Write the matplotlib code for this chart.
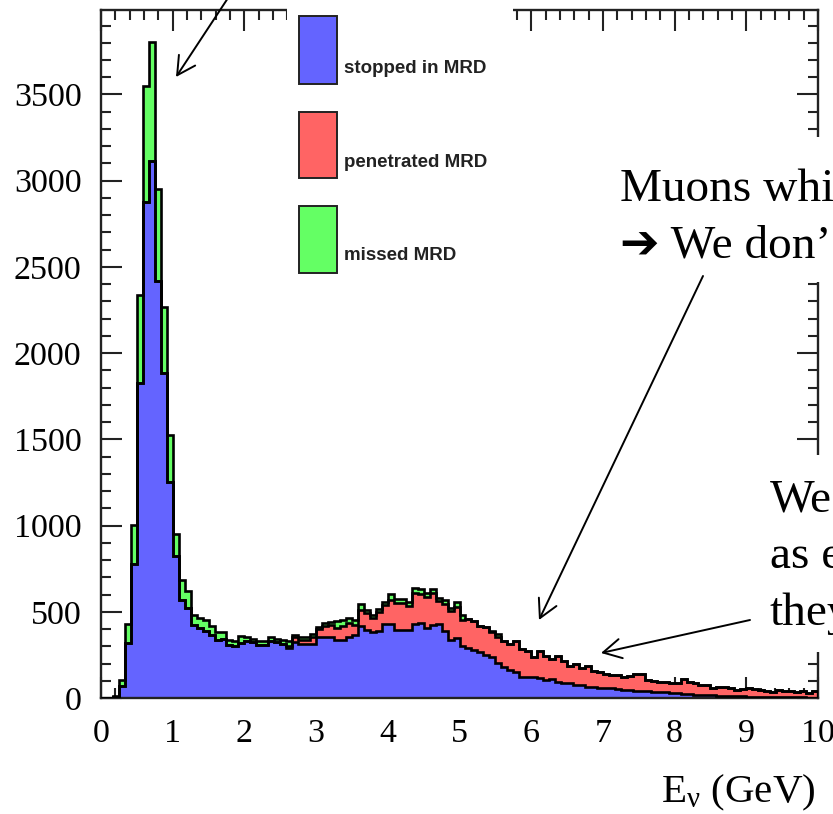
import numpy as np
import matplotlib
matplotlib.use("Agg")
import matplotlib.pyplot as plt
from matplotlib.patches import Rectangle, FancyArrowPatch, ArrowStyle
from matplotlib.ticker import MultipleLocator

# Neutrino energy spectrum, 120 bins of 1/12 GeV between 0 and 10 GeV
e_min, e_max, n_bins = 0.0, 10.0, 120

stopped = [
    0, 0, 8, 68, 320, 777, 1826, 2878, 3114, 2420, 1882, 1254,
    822, 570, 521, 424, 405, 391, 366, 339, 345, 310, 304, 320,
    330, 324, 308, 308, 333, 324, 314, 289, 327, 314, 314, 314,
    356, 356, 356, 337, 337, 352, 366, 415, 395, 380, 391, 430,
    430, 395, 395, 395, 430, 434, 405, 424, 430, 386, 337, 347,
    302, 289, 279, 269, 250, 237, 202, 182, 163, 153, 124, 124,
    124, 115, 105, 108, 95, 85, 85, 76, 76, 66, 62, 60,
    56, 56, 50, 47, 47, 43, 43, 43, 37, 37, 32, 27,
    27, 23, 23, 18, 18, 18, 15, 12, 12, 12, 10, 10,
    8, 8, 6, 5, 4, 4, 3, 3, 3, 3, 2, 2,
]
penetrated = [
    0, 0, 0, 0, 0, 0, 0, 0, 0, 0, 0, 0,
    0, 0, 0, 0, 0, 0, 0, 0, 0, 0, 0, 0,
    0, 0, 0, 0, 0, 0, 0, 11, 25, 25, 25, 42,
    43, 63, 66, 68, 83, 82, 58, 97, 97, 83, 105, 107,
    140, 155, 155, 136, 178, 171, 181, 185, 130, 161, 165, 181,
    151, 168, 165, 146, 161, 148, 153, 151, 151, 175, 158, 146,
    113, 155, 140, 117, 150, 127, 98, 122, 97, 117, 92, 90,
    84, 78, 84, 77, 81, 97, 97, 62, 63, 58, 58, 58,
    61, 86, 67, 67, 57, 57, 41, 54, 54, 44, 37, 42,
    48, 42, 41, 37, 33, 41, 37, 35, 31, 39, 26, 36,
]
missed = [
    0, 0, 2, 39, 112, 227, 511, 670, 692, 533, 384, 271,
    132, 116, 97, 59, 58, 62, 52, 43, 37, 29, 25, 42,
    23, 19, 23, 23, 23, 19, 23, 31, 14, 15, 15, 16,
    15, 15, 16, 39, 30, 29, 29, 34, 20, 20, 19, 19,
    35, 24, 24, 23, 29, 27, 23, 25, 20, 19, 19, 27,
    29, 0, 0, 0, 0, 5, 17, 0, 0, 0, 0, 0,
    0, 0, 0, 0, 0, 0, 0, 0, 0, 0, 0, 0,
    0, 0, 0, 0, 0, 0, 0, 0, 0, 0, 0, 0,
    0, 0, 0, 0, 0, 0, 0, 0, 0, 0, 0, 0,
    0, 0, 0, 0, 0, 0, 0, 0, 0, 0, 0, 0,
]
series_labels = ["stopped in MRD", "penetrated MRD", "missed MRD"]
series_colors = ["#6464ff", "#ff6464", "#64ff64"]

W, H = 833, 814
SERIF = ["Liberation Serif", "DejaVu Serif"]
plt.rcParams["mathtext.fontset"] = "custom"
plt.rcParams["mathtext.rm"] = "Liberation Serif"
plt.rcParams["mathtext.it"] = "Liberation Serif:italic"
plt.rcParams["mathtext.default"] = "regular"

fig = plt.figure(figsize=(W / 100, H / 100), dpi=100)
fig.patch.set_facecolor("white")


def fpos(x, y):
    """pixel position (from top-left) -> figure fraction"""
    return x / W, 1 - y / H


ax = fig.add_axes([101 / W, 1 - 698 / H, (818 - 101) / W, (698 - 10) / H])

edges = np.linspace(e_min, e_max, n_bins + 1)
s = np.array(stopped, float)
p = np.array(penetrated, float)
m = np.array(missed, float)
levels = [s + p + m, s + p, s]
for lev, col in zip(levels, series_colors[::-1]):
    ax.stairs(lev, edges, baseline=0, fill=True, facecolor=col,
              edgecolor="none", zorder=2)
    ax.stairs(lev, edges, baseline=0, fill=False, color="black",
              lw=1.9, zorder=3)

ax.set_xlim(e_min, e_max)
ax.set_ylim(0, 3990)
ax.xaxis.set_major_locator(MultipleLocator(1))
ax.xaxis.set_minor_locator(MultipleLocator(0.2))
ax.yaxis.set_major_locator(MultipleLocator(500))
ax.yaxis.set_minor_locator(MultipleLocator(100))
ax.tick_params(which="both", direction="in", top=True, right=True,
               width=1.5, color="#222222")
ax.tick_params(which="major", length=15)
ax.tick_params(which="minor", length=7.5)
ax.tick_params(axis="x", which="major", pad=15)
ax.tick_params(axis="y", which="major", pad=14)
for lab in ax.get_xticklabels() + ax.get_yticklabels():
    lab.set_fontfamily(SERIF)
    lab.set_fontsize(24.5)
for sp in ax.spines.values():
    sp.set_linewidth(1.7)
    sp.set_color("#222222")

fig.text(*fpos(815, 802), r"E$_{\nu}$ (GeV)", ha="right", va="baseline",
         fontsize=29.5, family=SERIF)

# legend panel
fig.add_artist(Rectangle(fpos(287, 292), 226 / W, 292 / H,
                         transform=fig.transFigure, facecolor="white",
                         edgecolor="none", zorder=2))
box_tops = [16, 112, 206]
box_bottoms = [84, 178, 273]
label_base = [73, 167, 260]
for lab, col, t, b, yb in zip(series_labels, series_colors, box_tops,
                              box_bottoms, label_base):
    fig.add_artist(Rectangle(fpos(299, b), 38 / W, (b - t) / H,
                             transform=fig.transFigure, facecolor=col,
                             edgecolor="#222222", lw=1.4, zorder=3))
    fig.text(*fpos(344, yb), lab, ha="left", va="baseline", fontsize=13.5,
             fontweight="bold", family=["Liberation Sans", "DejaVu Sans"],
             color="#222222", zorder=4)

# note boxes
fig.add_artist(Rectangle(fpos(587, 282), (W - 587) / W, (282 - 137) / H,
                         transform=fig.transFigure, facecolor="white",
                         edgecolor="none", zorder=2))
fig.add_artist(Rectangle(fpos(762, 652), (W - 762) / W, (652 - 455) / H,
                         transform=fig.transFigure, facecolor="white",
                         edgecolor="none", zorder=2))
note_font = dict(fontsize=34, family=SERIF + ["DejaVu Sans"], ha="left",
                 va="baseline", zorder=4)
fig.text(*fpos(620, 201), "Muons whi", **note_font)
fig.text(*fpos(620, 258), "\u2794 We don\u2019", **note_font)
fig.text(*fpos(770, 512), "We", **note_font)
fig.text(*fpos(770, 568), "as e", **note_font)
fig.text(*fpos(770, 625), "they", **note_font)

# pointer arrows
head = ArrowStyle("->", head_length=13, head_width=7)
for start, end in [((228, -2), (176, 77)),
                   ((703, 276), (539, 620)),
                   ((750, 620), (601, 653))]:
    fig.add_artist(FancyArrowPatch(fpos(*start), fpos(*end),
                                   transform=fig.transFigure,
                                   arrowstyle=head, mutation_scale=1,
                                   lw=1.4, color="black", zorder=5,
                                   shrinkA=0, shrinkB=0))

fig.savefig("out.png", dpi=100, facecolor="white")
